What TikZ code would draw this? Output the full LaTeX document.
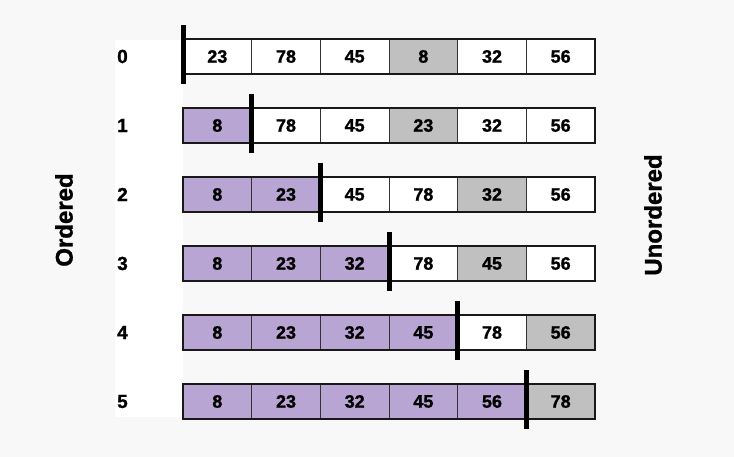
\documentclass[tikz,border=0pt]{standalone}
\usepackage{fontspec}
\setmainfont{Liberation Sans}[BoldFeatures={FakeBold=1.2}]
\definecolor{bgpage}{RGB}{248,248,248}
\definecolor{ordfill}{RGB}{185,165,211}
\definecolor{minfill}{RGB}{192,192,192}
\begin{document}
\begin{tikzpicture}[x=1pt, y=-1pt,
    cell/.style={draw=black!80, line width=1pt, minimum width=68.67pt, minimum height=35pt,
                 inner sep=0pt, outer sep=0pt, font=\fontsize{18}{20}\selectfont\bfseries},
    rowlab/.style={anchor=west, inner sep=0pt, font=\fontsize{19}{20}\selectfont\bfseries},
    sidelab/.style={rotate=90, inner sep=0pt, font=\fontsize{24}{28}\selectfont\bfseries},
    bar/.style={line width=5pt, black}]
    % Page and white label panel
    \fill[bgpage] (0,0) rectangle (734,457);
    \useasboundingbox (0,0) rectangle (734,457);
    \fill[white] (115,40) rectangle (183,417);

    % Side labels
    \node[sidelab] (ord) at (64,220) {Ordered};
    \node[sidelab] (unord) at (653,215) {Unordered};

    % One row per pass: values / position of the smallest unordered value
    \foreach \vals/\g [count=\r from 0] in {{23,78,45,8,32,56}/4, {8,78,45,23,32,56}/4,
            {8,23,45,78,32,56}/5, {8,23,32,78,45,56}/5, {8,23,32,45,78,56}/6, {8,23,32,45,56,78}/6} {
        \node[rowlab] (lab\r) at (117,{56.5+69*\r}) {\r};
        \foreach \v [count=\i] in \vals {
            \ifnum\i>\r\relax
                \ifnum\i=\g\relax \def\cellfill{minfill}\else \def\cellfill{white}\fi
            \else
                \def\cellfill{ordfill}
            \fi
            \node[cell, fill=\cellfill] (c\r-\i) at ({183+68.67*(\i-0.5)},{56.5+69*\r}) {\v};
        }
        % outer frame of the row
        \draw[black!90, line width=1.5pt] (c\r-1.north west) rectangle (c\r-6.south east);
        % boundary between ordered and unordered part
        \draw[bar] ({183+68.67*\r},{39+69*\r-14}) -- ++(0,59);
    }
\end{tikzpicture}
\end{document}
